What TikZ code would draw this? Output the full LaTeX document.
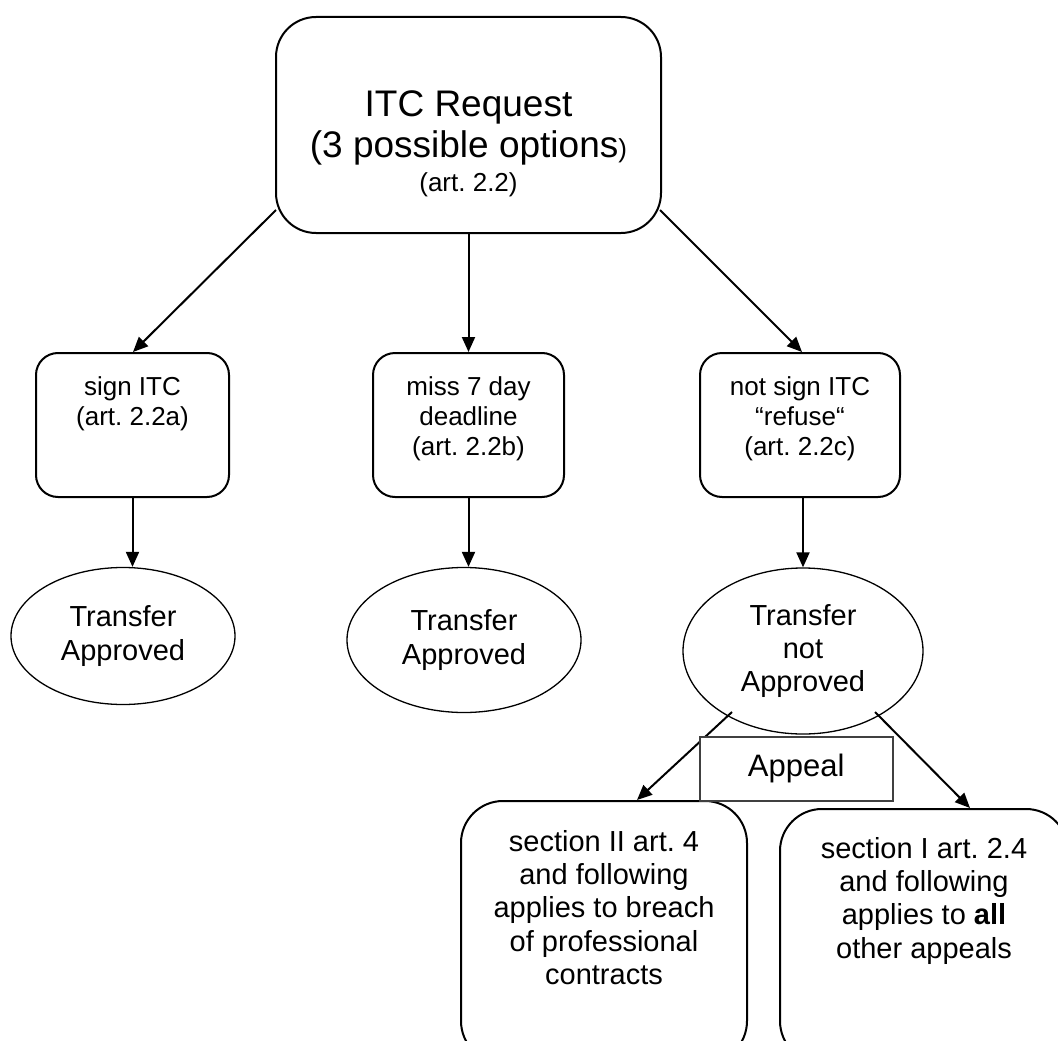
\documentclass[tikz,border=0pt]{standalone}
\usepackage{fontspec}
\setmainfont{Liberation Sans}
\usetikzlibrary{arrows.meta,calc,shapes.geometric}
\frenchspacing
\tikzset{
  rbox/.style={draw, line width=2pt, rounded corners=#1, inner sep=0pt, anchor=north west},
  rbox/.default=22pt,
  ell/.style={draw, ellipse, line width=1.3pt, inner sep=0pt, align=center,
              font=\fontsize{29}{33.4}\selectfont},
  arr/.style={-{Triangle[length=15pt,width=13pt]}, line width=2pt},
  appealbox/.style={draw=black!75, line width=1.5pt, fill=white, inner sep=0pt,
              anchor=north west, minimum width=193pt, minimum height=64pt,
              font=\fontsize{31}{36}\selectfont}
}
\begin{document}
\frenchspacing
\begin{tikzpicture}[x=1pt,y=-1pt]
\useasboundingbox (0,0) rectangle (1058,1041);
\fill[white] (0,0) rectangle (1058,1041);
\clip (0,0) rectangle (1058,1041);

% top request box
\node[rbox=40pt, font=\fontsize{37}{42}\selectfont] (req) at (275,16)
  {\parbox[c][216pt][t]{385pt}{\centering\rule{0pt}{99pt}ITC Request\par
   (3 possible options{\fontsize{26}{30}\selectfont)}\par
   \fontsize{26}{33}\selectfont (art. 2.2)\par}};

% option boxes
\node[rbox, font=\fontsize{26}{30}\selectfont] (sa) at (35,352)
  {\parbox[c][144pt][t]{193pt}{\centering\rule{0pt}{42pt}sign ITC\\(art. 2.2a)\par}};
\node[rbox, font=\fontsize{26}{30}\selectfont] (sb) at (372,352)
  {\parbox[c][144pt][t]{191pt}{\centering\rule{0pt}{42pt}miss 7 day\\deadline\\(art. 2.2b)\par}};
\node[rbox, font=\fontsize{26}{30}\selectfont] (sc) at (699,352)
  {\parbox[c][144pt][t]{200pt}{\centering\rule{0pt}{42pt}not sign ITC\\“refuse“\\(art. 2.2c)\par}};

% outcome ellipses
\node[ell, minimum width=224pt, minimum height=137pt] (ea) at (123,636) {Transfer\\Approved};
\node[ell, minimum width=234pt, minimum height=145pt] (eb) at (464,640) {Transfer\\Approved};
\node[ell, minimum width=240pt, minimum height=166pt] (ec) at (803,651) {Transfer\\not\\Approved};

% appeal target boxes
\node[rbox=42pt, font=\fontsize{29}{33.4}\selectfont] (ba) at (460,800)
  {\parbox[c][262pt][t]{286pt}{\centering\rule{0pt}{50pt}section II art. 4\\and following\\applies to breach\\of professional\\contracts\par}};
\node[rbox=42pt, font=\fontsize{29}{33.4}\selectfont] (bb) at (779,808)
  {\parbox[c][254pt][t]{288pt}{\centering\rule{0pt}{49pt}section I art. 2.4\\and following\\applies to \textbf{all}\\other appeals\par}};

% connectors
\draw[arr] ($(req.south west)+(1,-24)$) -- ($(sa.north west)+(98,0)$);
\draw[arr] (req.south) -- (req.south |- sb.north);
\draw[arr] ($(req.south east)+(-2,-24)$) -- ($(sc.north west)+(103,0)$);

\draw[arr] (sa.south) -- (sa.south |- ea.north);
\draw[arr] (sb.south) -- (sb.south |- eb.north);
\draw[arr] (ec.north |- sc.south) -- (ec.north);

\draw[arr] ($(ec.center)+(-71,61)$) -- ($(ba.north west)+(177,0)$);
\draw[arr] ($(ec.center)+(72,61)$) -- ($(bb.north west)+(191,0)$);

% appeal label box (drawn over the connector)
\node[appealbox] (ap) at (699,736) {Appeal};
\end{tikzpicture}
\end{document}
